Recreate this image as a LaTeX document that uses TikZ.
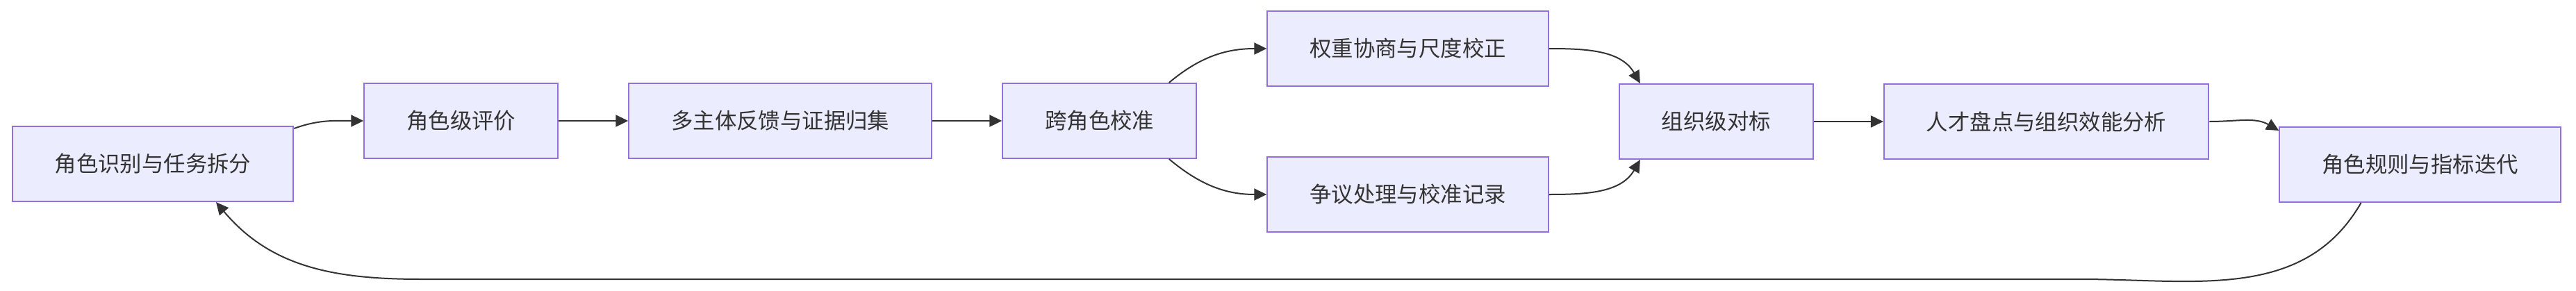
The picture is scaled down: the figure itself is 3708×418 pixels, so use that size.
\documentclass[tikz,border=0pt]{standalone}
\usepackage{fontspec}
\newfontfamily\cjk{Noto Sans CJK SC}
\usepackage{xcolor}
\usetikzlibrary{arrows.meta,calc,positioning}
\definecolor{boxfill}{HTML}{ECECFF}
\definecolor{boxline}{HTML}{9370DB}
\definecolor{ink}{HTML}{333333}

\begin{document}
\begin{tikzpicture}[x=1pt,y=1pt,
  box/.style={draw=boxline,line width=2pt,fill=boxfill,text=ink,minimum height=108pt,inner xsep=61pt,font=\cjk\fontsize{31.4}{36}\selectfont},
  flow/.style={-{Triangle[length=18pt,width=17pt]},line width=2pt,draw=ink},
  node distance=100pt
]
\useasboundingbox (0,0) rectangle (3708,-418);
\node[box] (n1) at (220,-236) {角色识别与任务拆分};
\node[box,right=of n1,yshift=62pt] (n2) {角色级评价};
\node[box,right=of n2] (n3) {多主体反馈与证据归集};
\node[box,right=of n3] (n4) {跨角色校准};
\node[box,right=of n4,yshift=104pt] (n5) {权重协商与尺度校正};
\node[box,below=of n5] (n6) {争议处理与校准记录};
\node[box,right=of $(n5.east)!0.5!(n6.east)$] (n7) {组织级对标};
\node[box,right=of n7] (n8) {人才盘点与组织效能分析};
\node[box,right=of n8,yshift=-62pt] (n9) {角色规则与指标迭代};
\draw[flow] ([yshift=-4pt]n1.north east) to[out=20,in=180] (n2.west);
\draw[flow] (n2) -- (n3);
\draw[flow] (n3) -- (n4);
\draw[flow] ([xshift=100pt]n4.north) to[out=40,in=180] (n5.west);
\draw[flow] ([xshift=100pt]n4.south) to[out=-40,in=180] (n6.west);
\draw[flow] (n5.east) to[out=0,in=120] ([xshift=31pt]n7.north west);
\draw[flow] (n6.east) to[out=0,in=-120] ([xshift=31pt]n7.south west);
\draw[flow] (n7) -- (n8);
\draw[flow] (n8.east) to[out=0,in=150] ([yshift=-6pt]n9.north west);
% loop back to the start
\coordinate (backR) at (2994,-402);
\coordinate (backL) at (606,-402);
\draw[flow] ([xshift=-85pt]n9.south) to[out=-120,in=0] (backR) -- (backL) to[out=180,in=-50] ([xshift=91pt]n1.south);
\end{tikzpicture}
\end{document}
